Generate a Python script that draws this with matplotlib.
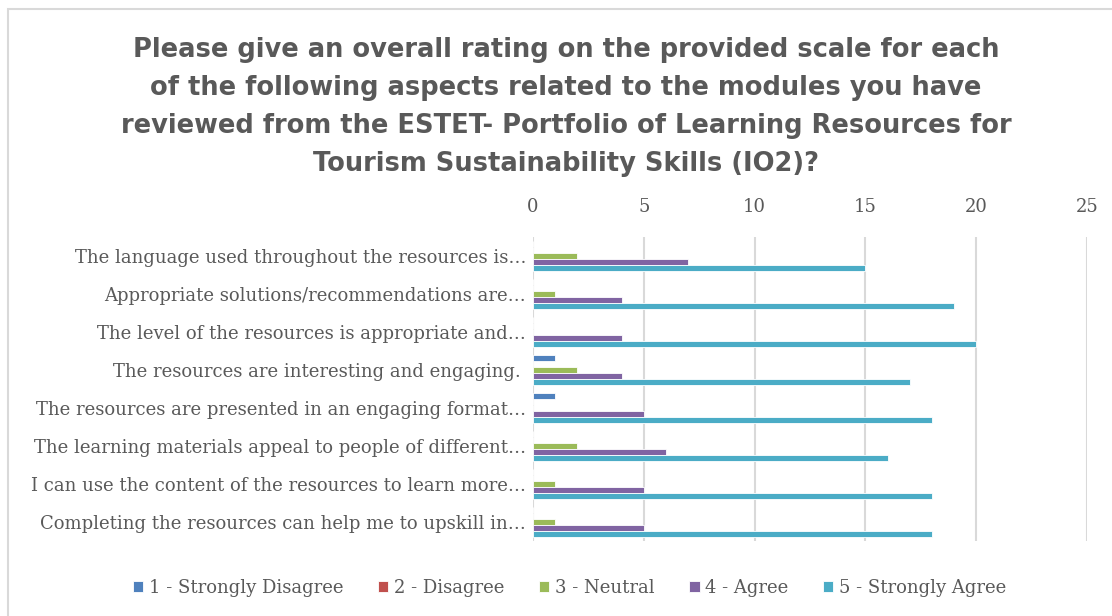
import numpy as np
import matplotlib.pyplot as plt
from matplotlib.patches import Rectangle

# Survey data (counts of respondents)
categories = [
    "The language used throughout the resources is\u2026",
    "Appropriate solutions/recommendations are\u2026",
    "The level of the resources is appropriate and\u2026",
    "The resources are interesting and engaging. ",
    "The resources are presented in an engaging format\u2026",
    "The learning materials appeal to people of different\u2026",
    "I can use the content of the resources to learn more\u2026",
    "Completing the resources can help me to upskill in\u2026",
]
series_names = ["1 - Strongly Disagree", "2 - Disagree", "3 - Neutral",
                "4 - Agree", "5 - Strongly Agree"]
strongly_disagree = [0, 0, 0, 1, 1, 0, 0, 0]
disagree = [0, 0, 0, 0, 0, 0, 0, 0]
neutral = [2, 1, 0, 2, 0, 2, 1, 1]
agree = [7, 4, 4, 4, 5, 6, 5, 5]
strongly_agree = [15, 19, 20, 17, 18, 16, 18, 18]
x_ticks = [0, 5, 10, 15, 20, 25]

colors = ["#4F81BD", "#C0504D", "#9BBB59", "#8064A2", "#4BACC6"]
all_series = [strongly_disagree, disagree, neutral, agree, strongly_agree]

title = ("Please give an overall rating on the provided scale for each\n"
         "of the following aspects related to the modules you have\n"
         "reviewed from the ESTET- Portfolio of Learning Resources for\n"
         "Tourism Sustainability Skills (IO2)?")

fig = plt.figure(figsize=(11.12, 6.16), dpi=100)
ax = fig.add_axes([0.4793, 0.1218, 0.4982, 0.4935])

# outer chart border (right and bottom run off the picture)
fig.patches.append(Rectangle((8 / 1112, -0.05), 1.2, 1 - 9 / 616 + 0.05,
                             transform=fig.transFigure, fill=False,
                             edgecolor="#D9D9D9", linewidth=1.5))

y = np.arange(len(categories))
bar_h = 0.158
for k, (vals, name, c) in enumerate(zip(all_series, series_names, colors)):
    offs = (k - 2) * bar_h
    ax.barh(y + offs, vals, height=bar_h, color=c, label=name,
            edgecolor="white", linewidth=0.6, zorder=3)

ax.set_xlim(0, 25)
ax.set_ylim(len(categories) - 0.5, -0.5)
ax.set_xticks(x_ticks)
ax.xaxis.tick_top()
ax.set_yticks(y)
ax.set_yticklabels(categories)
ax.tick_params(axis="x", length=0, pad=15, labelsize=13, labelcolor="#595959")
ax.tick_params(axis="y", length=0, pad=5, labelsize=13, labelcolor="#595959")
for lab in ax.get_xticklabels() + ax.get_yticklabels():
    lab.set_family("DejaVu Serif")
ax.grid(axis="x", color="#D9D9D9", linewidth=1.5, zorder=0)
for s in ax.spines.values():
    s.set_visible(False)

fig.text(0.509, 1 - 37 / 616, title, ha="center", va="top", fontsize=18.5,
         fontweight="bold", color="#595959", family="DejaVu Sans",
         linespacing=1.6)

leg = fig.legend(loc="center", bbox_to_anchor=(0.512, 1 - 588 / 616), ncol=5,
                 frameon=False, handlelength=0.6, handleheight=0.6,
                 handletextpad=0.3, columnspacing=1.9,
                 prop={"family": "DejaVu Serif", "size": 13})
for t in leg.get_texts():
    t.set_color("#595959")

fig.savefig("out.png", dpi=100, facecolor="white")
